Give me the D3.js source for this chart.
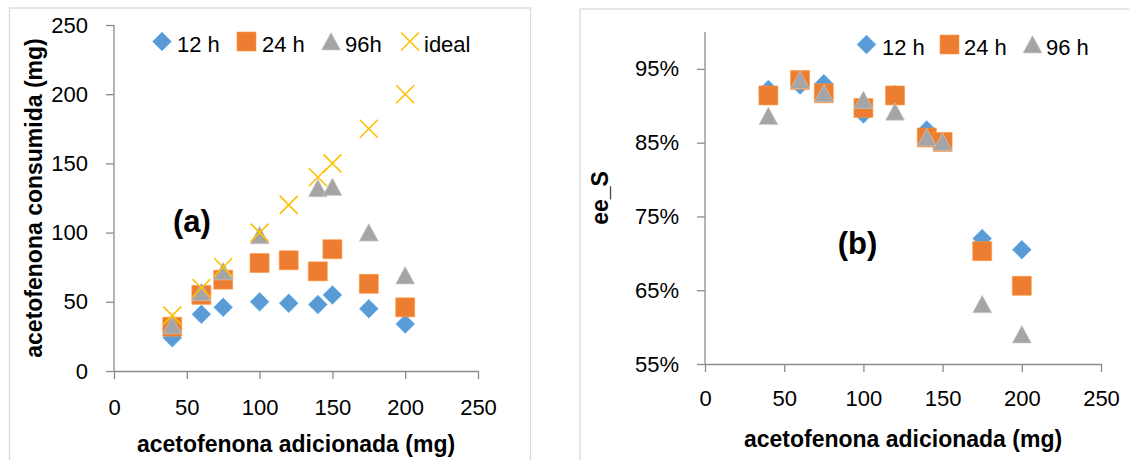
<!DOCTYPE html>
<html><head>
<meta charset="utf-8">
<script src="https://d3js.org/d3.v7.min.js"></script>
<style>
  body { margin: 0; background: #fff; }
  svg text { font-family: "Liberation Sans", Arial, sans-serif; fill: #000; }
  .axis path, .axis line { stroke: #8c8c8c; stroke-width: 1.3; }
  .title { font-weight: bold; font-size: 23px; }
</style>
</head>
<body>
<svg id="chart" width="1129" height="460"></svg>
<script>

// acetofenona adicionada (mg)
const addedMg = [40, 60, 75, 100, 120, 140, 150, 175, 200];

// panel (a): acetofenona consumida (mg)
const consumed12h = [24, 41, 46, 50, 49, 48, 55, 45, 34];
const consumed24h = [32, 55, 66, 78, 80, 72, 88, 63, 46];
const consumed96h = [33, 57, 72, 98, null, 132, 133, 100, 69];
const consumedIdeal = [40, 60, 75, 100, 120, 140, 150, 175, 200];

// panel (b): ee_S
const ee12h = [0.922, 0.928, 0.930, 0.889, 0.915, 0.867, 0.851, 0.720, 0.705];
const ee24h = [0.914, 0.935, 0.917, 0.897, 0.914, 0.857, 0.851, 0.703, 0.656];
const ee96h = [0.886, 0.935, 0.917, 0.908, 0.892, 0.857, 0.851, 0.631, 0.590];

const xTicks = [0, 50, 100, 150, 200, 250];
const yTicksA = [0, 50, 100, 150, 200, 250];
const yTicksB = [0.55, 0.65, 0.75, 0.85, 0.95];

const colors = {"12 h": "#5b9bd5", "24 h": "#ed7d31", "96h": "#a5a5a5", "ideal": "#ffc000"};

const svg = d3.select("#chart");

// marker shapes, drawn around 0,0
const shapes = {
  diamond: "M0,-9.5L9.5,0L0,9.5L-9.5,0Z",
  square: "M-9.5,-9.5H9.5V9.5H-9.5Z",
  triangle: "M0,-9L9.5,8.5H-9.5Z",
  cross: "M-9,-9L9,9M9,-9L-9,9"
};

function drawMarker(g, shape, color) {
  if (shape === "cross") {
    g.append("path").attr("d", shapes.cross).attr("fill", "none")
     .attr("stroke", color).attr("stroke-width", 1.6);
  } else {
    g.append("path").attr("d", shapes[shape]).attr("fill", color)
     .attr("stroke", d3.color(color).brighter(0.6)).attr("stroke-width", 0.6);
  }
}

function panel(opts) {
  const g = svg.append("g");

  // light frame of the chart area
  g.append("rect").attr("x", opts.frame[0]).attr("y", opts.frame[1])
   .attr("width", opts.frame[2]).attr("height", opts.frame[3])
   .attr("fill", "none").attr("stroke", "#d9d9d9").attr("stroke-width", 1.3);

  const x = d3.scaleLinear().domain([0, 250]).range(opts.xRange);
  const y = d3.scaleLinear().domain(opts.yDomain).range(opts.yRange);

  const xAxis = g.append("g").attr("class", "axis")
    .attr("transform", "translate(0," + opts.yRange[0] + ")")
    .call(d3.axisBottom(x).tickValues(xTicks).tickSize(8).tickSizeOuter(0).tickPadding(opts.xPad));
  xAxis.selectAll("text").attr("font-size", 22).attr("fill", "#000");

  const yAxis = g.append("g").attr("class", "axis")
    .attr("transform", "translate(" + opts.xRange[0] + ",0)")
    .call(d3.axisLeft(y).tickValues(opts.yTicks).tickSize(8).tickSizeOuter(0)
      .tickPadding(18).tickFormat(opts.yFormat));
  yAxis.selectAll("text").attr("font-size", 22).attr("fill", "#000");
  // axis reaches the top of the domain
  yAxis.select("path.domain").attr("d", "M0," + y.range()[0] + "V" + y.range()[1]);

  // series
  opts.series.forEach(s => {
    const pts = addedMg.map((v, i) => ({x: v, y: s.values[i]})).filter(d => d.y != null);
    const sg = g.append("g");
    sg.selectAll("g").data(pts).join("g")
      .attr("transform", d => "translate(" + x(d.x) + "," + y(d.y) + ")")
      .each(function() { drawMarker(d3.select(this), s.shape, colors[s.name]); });
  });

  // legend
  opts.series.forEach((s, i) => {
    const lg = g.append("g").attr("transform", "translate(" + opts.legend[i][0] + "," + opts.legendY + ")");
    drawMarker(lg, s.shape, colors[s.name]);
    lg.append("text").attr("x", opts.legend[i][1] - opts.legend[i][0]).attr("y", 10.5)
      .attr("font-size", 22).text(s.label);
  });

  // axis titles
  g.append("text").attr("class", "title")
   .attr("text-anchor", "middle")
   .attr("x", (opts.xRange[0] + opts.xRange[1]) / 2).attr("y", opts.xTitleY)
   .text("acetofenona adicionada (mg)");
  g.append("text").attr("class", "title")
   .attr("text-anchor", "middle")
   .attr("transform", "translate(" + opts.yTitleX + "," + (opts.yRange[0] + opts.yRange[1]) / 2 + ") rotate(-90)")
   .text(opts.yTitle);

  // panel tag
  g.append("text").attr("text-anchor", "middle").attr("font-weight", "bold").attr("font-size", 31)
   .attr("x", opts.tag[0]).attr("y", opts.tag[1]).text(opts.tagText);
}

panel({
  frame: [9.5, 8, 521, 470],
  xRange: [114, 478],
  yDomain: [0, 250],
  yRange: [371, 25],
  yTicks: yTicksA,
  yFormat: d3.format("d"),
  xPad: 20.5,
  series: [
    {name: "12 h", label: "12 h", shape: "diamond", values: consumed12h},
    {name: "24 h", label: "24 h", shape: "square", values: consumed24h},
    {name: "96h", label: "96h", shape: "triangle", values: consumed96h},
    {name: "ideal", label: "ideal", shape: "cross", values: consumedIdeal}
  ],
  legend: [[162, 177], [246.5, 262], [331, 345], [410, 424]],
  legendY: 41.5,
  xTitleY: 452,
  yTitleX: 41.5,
  yTitle: "acetofenona consumida (mg)",
  tag: [192, 232],
  tagText: "(a)"
});

panel({
  frame: [580, 9, 600, 470],
  xRange: [705, 1101],
  yDomain: [0.55, 1.0],
  yRange: [364, 32],
  yTicks: yTicksB,
  yFormat: d3.format(".0%"),
  xPad: 18.5,
  series: [
    {name: "12 h", label: "12 h", shape: "diamond", values: ee12h},
    {name: "24 h", label: "24 h", shape: "square", values: ee24h},
    {name: "96h", label: "96 h", shape: "triangle", values: ee96h}
  ],
  legend: [[866.5, 882], [949.5, 964], [1032.5, 1046]],
  legendY: 44.5,
  xTitleY: 447,
  yTitleX: 608,
  yTitle: "ee_S",
  tag: [857.5, 254],
  tagText: "(b)"
});

</script>
</body>
</html>
